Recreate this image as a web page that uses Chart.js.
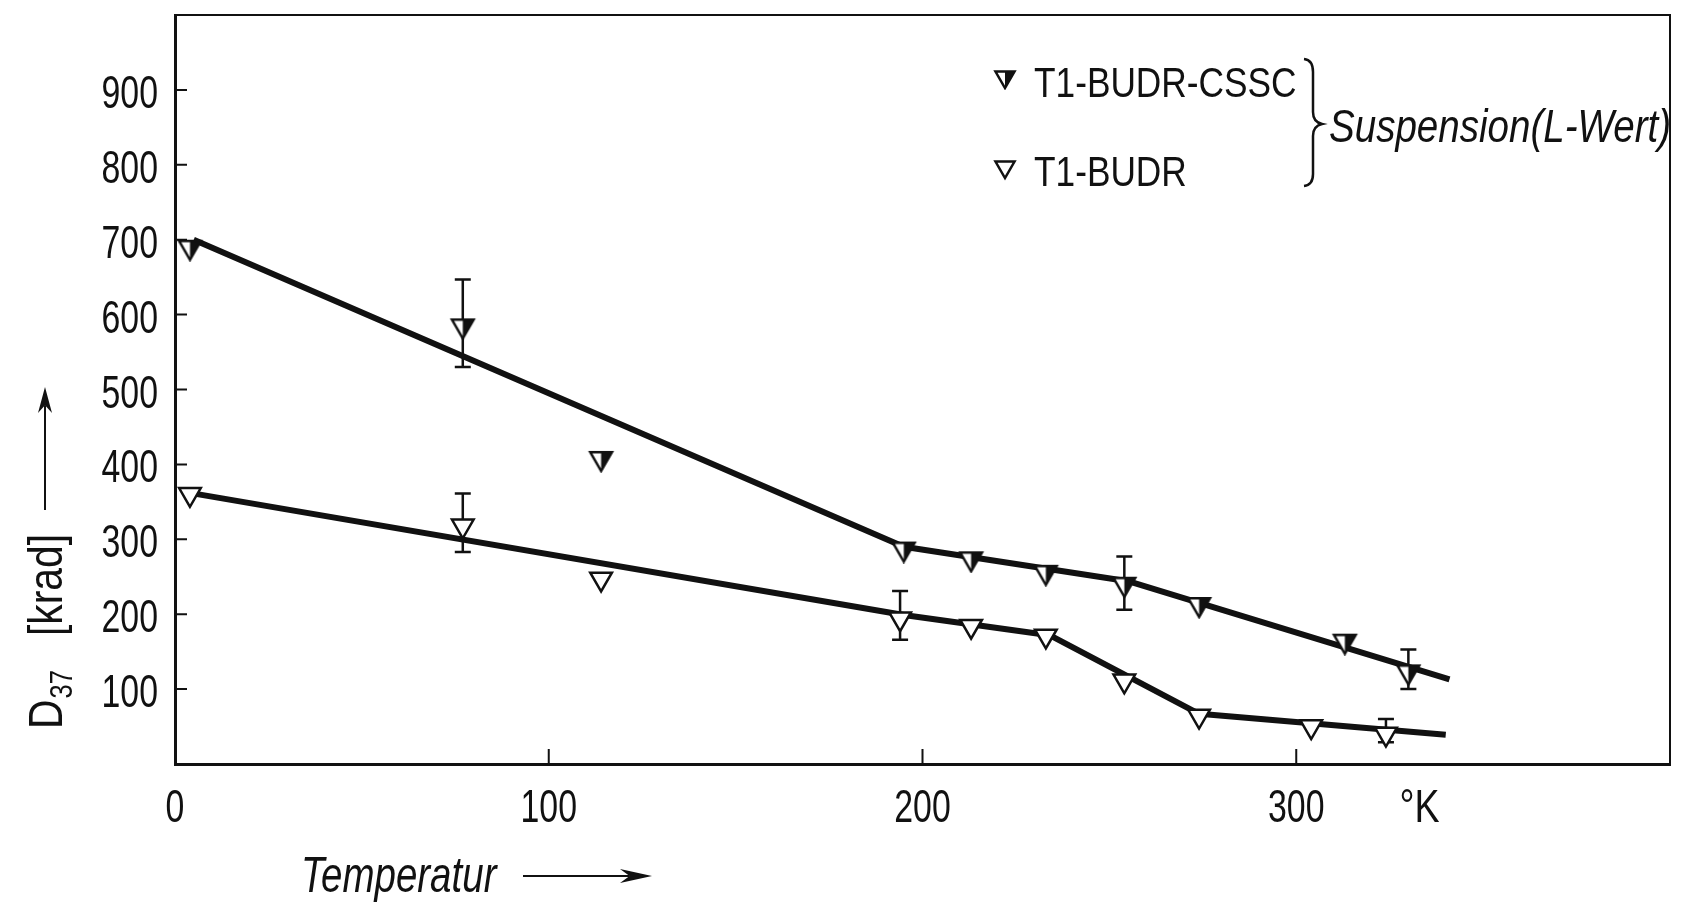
<!DOCTYPE html>
<html>
<head>
<meta charset="utf-8">
<script src="https://cdn.jsdelivr.net/npm/chart.js@4.4.0/dist/chart.umd.min.js"></script>
<style>
    html, body { margin: 0; padding: 0; background: #fff; }
    canvas { display: block; }
</style>
</head>
<body>
<canvas id="d37Chart" width="1685" height="914"></canvas>
<script>
// T1-BUDR-CSSC, Suspension (L-Wert): Temperatur [K] / D37 [krad]
const cssT = [4, 77, 114, 195, 213, 233, 254, 274, 313, 330];
const cssD = [690, 585, 408, 287, 274, 256, 240, 213, 164, 123];
const cssErrLo = [null, 530, null, null, null, null, 206, null, null, 100];
const cssErrHi = [null, 647, null, null, null, null, 277, null, null, 153];

// T1-BUDR
const budrT = [4, 77, 114, 194, 213, 233, 254, 274, 304, 324];
const budrD = [360, 318, 247, 194, 184, 171, 111, 64, 50, 40];
const budrErrLo = [null, 283, null, 166, null, null, null, null, null, 29];
const budrErrHi = [null, 361, null, 231, null, null, null, null, null, 60];

// drawn fit lines
const cssFitT = [5, 195, 255, 341];
const cssFitD = [700, 290, 244, 113];
const budrFitT = [4, 195, 234, 274, 340];
const budrFitD = [362, 199, 172, 67, 39];

// axes
const yTicks = [100, 200, 300, 400, 500, 600, 700, 800, 900];
const xTicks = [0, 100, 200, 300];
const xUnitAt = 333;
const xUnitLabel = '°K';

const FONT = "'Liberation Sans', Arial, sans-serif";
const INK = '#111';

function toPoints(xs, ys) {
    return xs.map((x, i) => ({ x: x, y: ys[i] }));
}

// narrow lettering like the original (horizontally squeezed)
function label(ctx, text, x, y, size, opts) {
    const o = Object.assign({ sx: 0.75, italic: false, align: 'left' }, opts || {});
    ctx.save();
    ctx.font = (o.italic ? 'italic ' : '') + size + 'px ' + FONT;
    ctx.textBaseline = 'alphabetic';
    ctx.textAlign = o.align;
    ctx.fillStyle = INK;
    ctx.translate(x, y);
    ctx.scale(o.sx, 1);
    ctx.fillText(text, 0, 0);
    const w = ctx.measureText(text).width * o.sx;
    ctx.restore();
    return w;
}

// down-pointing triangle, right half filled
function halfFilledTriangle(r) {
    const size = Math.ceil(2 * r + 4);
    const c = document.createElement('canvas');
    c.width = size;
    c.height = size;
    const g = c.getContext('2d');
    const cx = size / 2, cy = size / 2;
    const hw = r * Math.sin(Math.PI / 3);
    const top = cy - r / 2, apex = cy + r;
    g.beginPath();
    g.moveTo(cx - hw, top); g.lineTo(cx + hw, top); g.lineTo(cx, apex); g.closePath();
    g.fillStyle = '#fff';
    g.fill();
    g.beginPath();
    g.moveTo(cx, top); g.lineTo(cx + hw, top); g.lineTo(cx, apex); g.closePath();
    g.fillStyle = INK;
    g.fill();
    g.beginPath();
    g.moveTo(cx - hw, top); g.lineTo(cx + hw, top); g.lineTo(cx, apex); g.closePath();
    g.lineWidth = 2.5;
    g.strokeStyle = INK;
    g.stroke();
    return c;
}

const cssMarker = halfFilledTriangle(12.5);
const cssLegendMarker = halfFilledTriangle(11);

function openTriangle(ctx, x, y, r) {
    const hw = r * Math.sin(Math.PI / 3);
    ctx.beginPath();
    ctx.moveTo(x - hw, y - r / 2); ctx.lineTo(x + hw, y - r / 2); ctx.lineTo(x, y + r); ctx.closePath();
    ctx.fillStyle = '#fff';
    ctx.fill();
    ctx.lineWidth = 2.5;
    ctx.strokeStyle = INK;
    ctx.stroke();
}

function arrow(ctx, x0, y0, x1, y1, len, half) {
    // thin shaft, filled head at (x1, y1)
    const a = Math.atan2(y1 - y0, x1 - x0);
    const bx = x1 - Math.cos(a) * len, by = y1 - Math.sin(a) * len;
    const nx = bx + Math.cos(a) * len * 0.3, ny = by + Math.sin(a) * len * 0.3;
    ctx.beginPath();
    ctx.moveTo(x0, y0);
    ctx.lineTo(nx, ny);
    ctx.lineWidth = 2;
    ctx.strokeStyle = INK;
    ctx.stroke();
    ctx.beginPath();
    ctx.moveTo(x1, y1);
    ctx.lineTo(bx - Math.sin(a) * half, by + Math.cos(a) * half);
    ctx.lineTo(nx, ny);
    ctx.lineTo(bx + Math.sin(a) * half, by - Math.cos(a) * half);
    ctx.closePath();
    ctx.fillStyle = INK;
    ctx.fill();
}

const decorPlugin = {
    id: 'd37Decor',
    beforeDatasetsDraw(chart) {
        // error bars
        const ctx = chart.ctx;
        const yScale = chart.scales.y;
        chart.data.datasets.forEach((ds, i) => {
            if (!ds.errLo) return;
            const meta = chart.getDatasetMeta(i);
            meta.data.forEach((el, j) => {
                if (ds.errLo[j] == null) return;
                const yl = yScale.getPixelForValue(ds.errLo[j]);
                const yh = yScale.getPixelForValue(ds.errHi[j]);
                ctx.save();
                ctx.strokeStyle = INK;
                ctx.lineWidth = 2.5;
                ctx.beginPath();
                ctx.moveTo(el.x, yl); ctx.lineTo(el.x, yh);
                ctx.moveTo(el.x - 8, yl); ctx.lineTo(el.x + 8, yl);
                ctx.moveTo(el.x - 8, yh); ctx.lineTo(el.x + 8, yh);
                ctx.stroke();
                ctx.restore();
            });
        });
    },
    afterDraw(chart) {
        const ctx = chart.ctx;
        const area = chart.chartArea;
        const xs = chart.scales.x, ys = chart.scales.y;
        ctx.save();
        ctx.strokeStyle = INK;

        // top and right frame
        ctx.lineWidth = 2;
        ctx.beginPath();
        ctx.moveTo(area.left, area.top); ctx.lineTo(area.right, area.top); ctx.lineTo(area.right, area.bottom);
        ctx.stroke();

        // inside tick marks
        ctx.lineWidth = 2;
        ctx.beginPath();
        yTicks.forEach(v => {
            const y = ys.getPixelForValue(v);
            ctx.moveTo(area.left, y); ctx.lineTo(area.left + 12, y);
        });
        xTicks.filter(v => v > 0).forEach(v => {
            const x = xs.getPixelForValue(v);
            ctx.moveTo(x, area.bottom); ctx.lineTo(x, area.bottom - 15);
        });
        ctx.stroke();

        // tick labels
        yTicks.forEach(v => {
            label(ctx, String(v), area.left - 17, ys.getPixelForValue(v) + 18, 47, { align: 'right', sx: 0.72 });
        });
        xTicks.forEach(v => {
            label(ctx, String(v), xs.getPixelForValue(v), area.bottom + 58, 47, { align: 'center', sx: 0.72 });
        });
        label(ctx, xUnitLabel, xs.getPixelForValue(xUnitAt), area.bottom + 58, 47, { align: 'center', sx: 0.8 });

        // y title: D37 [krad] with arrow, rotated
        ctx.save();
        ctx.translate(62, 729);
        ctx.rotate(-Math.PI / 2);
        const dW = label(ctx, 'D', 0, 0, 48, { sx: 0.85 });
        label(ctx, '37', dW + 1, 10, 32, { sx: 0.8 });
        label(ctx, '[krad]', 93, 0, 48, { sx: 0.85 });
        arrow(ctx, 219, -17, 342, -17, 26, 7);
        ctx.restore();

        // x title
        label(ctx, 'Temperatur', 301, 892, 50, { italic: true, sx: 0.77 });
        arrow(ctx, 523, 876, 652, 876, 32, 7);

        // legend
        ctx.drawImage(cssLegendMarker, 1005 - cssLegendMarker.width / 2, 77 - cssLegendMarker.height / 2);
        openTriangle(ctx, 1005, 167, 11);
        label(ctx, 'T1-BUDR-CSSC', 1034, 97, 43, { sx: 0.82 });
        label(ctx, 'T1-BUDR', 1034, 186, 43, { sx: 0.82 });

        // brace
        ctx.strokeStyle = INK;
        ctx.lineWidth = 2.5;
        ctx.beginPath();
        ctx.moveTo(1304, 59);
        ctx.quadraticCurveTo(1313, 60, 1313, 72);
        ctx.lineTo(1313, 112);
        ctx.quadraticCurveTo(1313, 122, 1322, 124);
        ctx.quadraticCurveTo(1313, 126, 1313, 136);
        ctx.lineTo(1313, 174);
        ctx.quadraticCurveTo(1313, 185, 1304, 186);
        ctx.stroke();

        label(ctx, 'Suspension(L-Wert)', 1329, 142, 47, { italic: true, sx: 0.82 });
        ctx.restore();
    }
};

const ctx = document.getElementById('d37Chart');
new Chart(ctx, {
    type: 'scatter',
    data: {
        datasets: [
            {
                label: 'T1-BUDR-CSSC',
                data: toPoints(cssT, cssD),
                errLo: cssErrLo,
                errHi: cssErrHi,
                pointStyle: cssMarker,
                showLine: false
            },
            {
                label: 'T1-BUDR',
                data: toPoints(budrT, budrD),
                errLo: budrErrLo,
                errHi: budrErrHi,
                pointStyle: 'triangle',
                rotation: 180,
                pointRadius: 12.5,
                pointBackgroundColor: '#fff',
                pointBorderColor: INK,
                pointBorderWidth: 2.5,
                showLine: false
            },
            {
                label: 'fit CSSC',
                data: toPoints(cssFitT, cssFitD),
                showLine: true,
                pointRadius: 0,
                borderColor: INK,
                borderWidth: 6,
                borderCapStyle: 'butt',
                borderJoinStyle: 'round'
            },
            {
                label: 'fit BUDR',
                data: toPoints(budrFitT, budrFitD),
                showLine: true,
                pointRadius: 0,
                borderColor: INK,
                borderWidth: 6,
                borderCapStyle: 'butt',
                borderJoinStyle: 'round'
            }
        ]
    },
    options: {
        responsive: false,
        animation: false,
        events: [],
        layout: { padding: { top: 13, right: 2, left: 0, bottom: 0 } },
        plugins: {
            legend: { display: false },
            tooltip: { enabled: false }
        },
        scales: {
            x: {
                type: 'linear',
                min: 0,
                max: 400,
                afterFit: s => { s.height = 150; },
                grid: { display: false, drawTicks: false },
                border: { display: true, color: INK, width: 3 },
                ticks: { display: false }
            },
            y: {
                type: 'linear',
                min: 0,
                max: 1000,
                afterFit: s => { s.width = 175; },
                grid: { display: false, drawTicks: false },
                border: { display: true, color: INK, width: 3 },
                ticks: { display: false }
            }
        }
    },
    plugins: [decorPlugin]
});
</script>
</body>
</html>
